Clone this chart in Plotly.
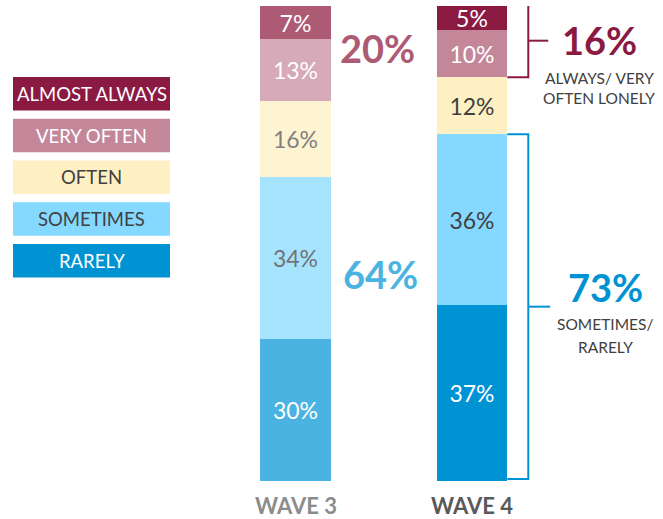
import plotly.graph_objects as go

# Loneliness frequency, share of respondents (%) per survey wave
categories = ["ALMOST ALWAYS", "VERY OFTEN", "OFTEN", "SOMETIMES", "RARELY"]
waves = ["WAVE 3", "WAVE 4"]
wave3 = [7, 13, 16, 34, 30]
wave4 = [5, 10, 12, 36, 37]

# Headline totals shown beside the bars: [often-lonely group, sometimes/rarely group]
totals_w3 = [20, 64]
totals_w4 = [16, 73]

colors_w4 = ["#8B1A42", "#C4879A", "#FFF0C4", "#85D8FF", "#0093D3"]
colors_w3 = ["#AD5A74", "#D6AAB8", "#FFF4D2", "#A6E3FF", "#4BB3E1"]
text_w3 = ["#FFFFFF", "#FFFFFF", "#808080", "#737373", "#FFFFFF"]
text_w4 = ["#FFFFFF", "#FFFFFF", "#404040", "#404040", "#FFFFFF"]
legend_text = ["#FFFFFF", "#FFFFFF", "#404040", "#404040", "#FFFFFF"]

FONT = "Lato"
W, H = 663, 519
TOP, BOTTOM = 6, 481          # pixel rows of the plot area

fig = go.Figure()

# stack from the bottom: RARELY first
for i in reversed(range(len(categories))):
    fig.add_trace(go.Bar(
        x=[0, 1],
        y=[wave3[i], wave4[i]],
        name=categories[i],
        width=0.4,
        marker=dict(color=[colors_w3[i], colors_w4[i]], line=dict(width=0)),
        text=[f"{wave3[i]}%", f"{wave4[i]}%"],
        textposition="inside",
        insidetextanchor="middle",
        textangle=0,
        textfont=dict(family=FONT, size=23, color=[text_w3[i], text_w4[i]]),
        hoverinfo="skip",
        showlegend=False,
    ))


def paper_x(px):
    return px / W


def paper_y(py):
    return (BOTTOM - py) / (BOTTOM - TOP)


shapes = []
annotations = []

# colour-box legend
box_top, box_step, box_h = 77, 41.75, 33.5
for i, cat in enumerate(categories):
    y0 = box_top + i * box_step
    shapes.append(dict(type="rect", xref="paper", yref="paper",
                       x0=paper_x(13), x1=paper_x(170),
                       y0=paper_y(y0 + box_h), y1=paper_y(y0),
                       fillcolor=colors_w4[i], line=dict(width=0), layer="below"))
    annotations.append(dict(xref="paper", yref="paper", x=paper_x(91.5),
                            y=paper_y(y0 + box_h / 2), text=cat, showarrow=False,
                            xanchor="center", yanchor="middle",
                            font=dict(family=FONT, size=18.5, color=legend_text[i])))

# brackets beside wave 4
bar_right = 1 + 0.2
br_x = bar_right + 0.119
top_group = wave4[0] + wave4[1]
low_group = wave4[3] + wave4[4]
stack_total = sum(wave4)


def bracket(y0, y1, tick_len, color):
    ym = (y0 + y1) / 2
    shapes.append(dict(type="path", xref="x", yref="y",
                       path=f"M {bar_right},{y1} L {br_x},{y1} L {br_x},{y0} L {bar_right},{y0}",
                       line=dict(color=color, width=2)))
    shapes.append(dict(type="line", xref="x", yref="y",
                       x0=br_x, x1=br_x + tick_len, y0=ym, y1=ym,
                       line=dict(color=color, width=2)))


bracket(stack_total - top_group, stack_total + 0.4, 0.113, "#8B1A42")
bracket(0.4, low_group, 0.124, "#0093D3")

big = dict(family=FONT, size=38, weight="bold")
small = dict(family=FONT, size=15.5, color="#404040")

annotations += [
    dict(x=0.465, y=91.2, text=f"{totals_w3[0]}%", font=dict(big, color="#AD5A74")),
    dict(x=0.479, y=43.6, text=f"{totals_w3[1]}%", font=dict(big, color="#4BB3E1")),
    dict(x=1.72, y=92.8, text=f"{totals_w4[0]}%", font=dict(big, color="#8B1A42")),
    dict(x=1.72, y=84.8, text="ALWAYS/ VERY", font=small),
    dict(x=1.72, y=80.7, text="OFTEN LONELY", font=small),
    dict(x=1.754, y=40.8, text=f"{totals_w4[1]}%", font=dict(big, color="#0093D3")),
    dict(x=1.754, y=33.0, text="SOMETIMES/", font=small),
    dict(x=1.754, y=28.2, text="RARELY", font=small),
]
for a in annotations[-8:]:
    a.update(xref="x", yref="y", showarrow=False, xanchor="center", yanchor="middle")

# wave labels under the bars
for xi, (wv, col) in enumerate(zip(waves, ["#8C8C8C", "#595959"])):
    annotations.append(dict(xref="x", yref="paper", x=xi, y=paper_y(505), text=wv,
                            showarrow=False, xanchor="center", yanchor="middle",
                            font=dict(family=FONT, size=22, weight="bold", color=col)))

x_left = -295.5 / 176.5
x_right = x_left + W / 176.5

fig.update_layout(
    width=W, height=H,
    margin=dict(l=0, r=0, t=TOP, b=H - BOTTOM, pad=0),
    barmode="stack",
    bargap=0,
    paper_bgcolor="white",
    plot_bgcolor="white",
    xaxis=dict(range=[x_left, x_right], visible=False, fixedrange=True),
    yaxis=dict(range=[0, 100], visible=False, fixedrange=True),
    uniformtext=dict(minsize=23, mode="show"),
    shapes=shapes,
    annotations=annotations,
    showlegend=False,
)

fig.write_html("out.html")
